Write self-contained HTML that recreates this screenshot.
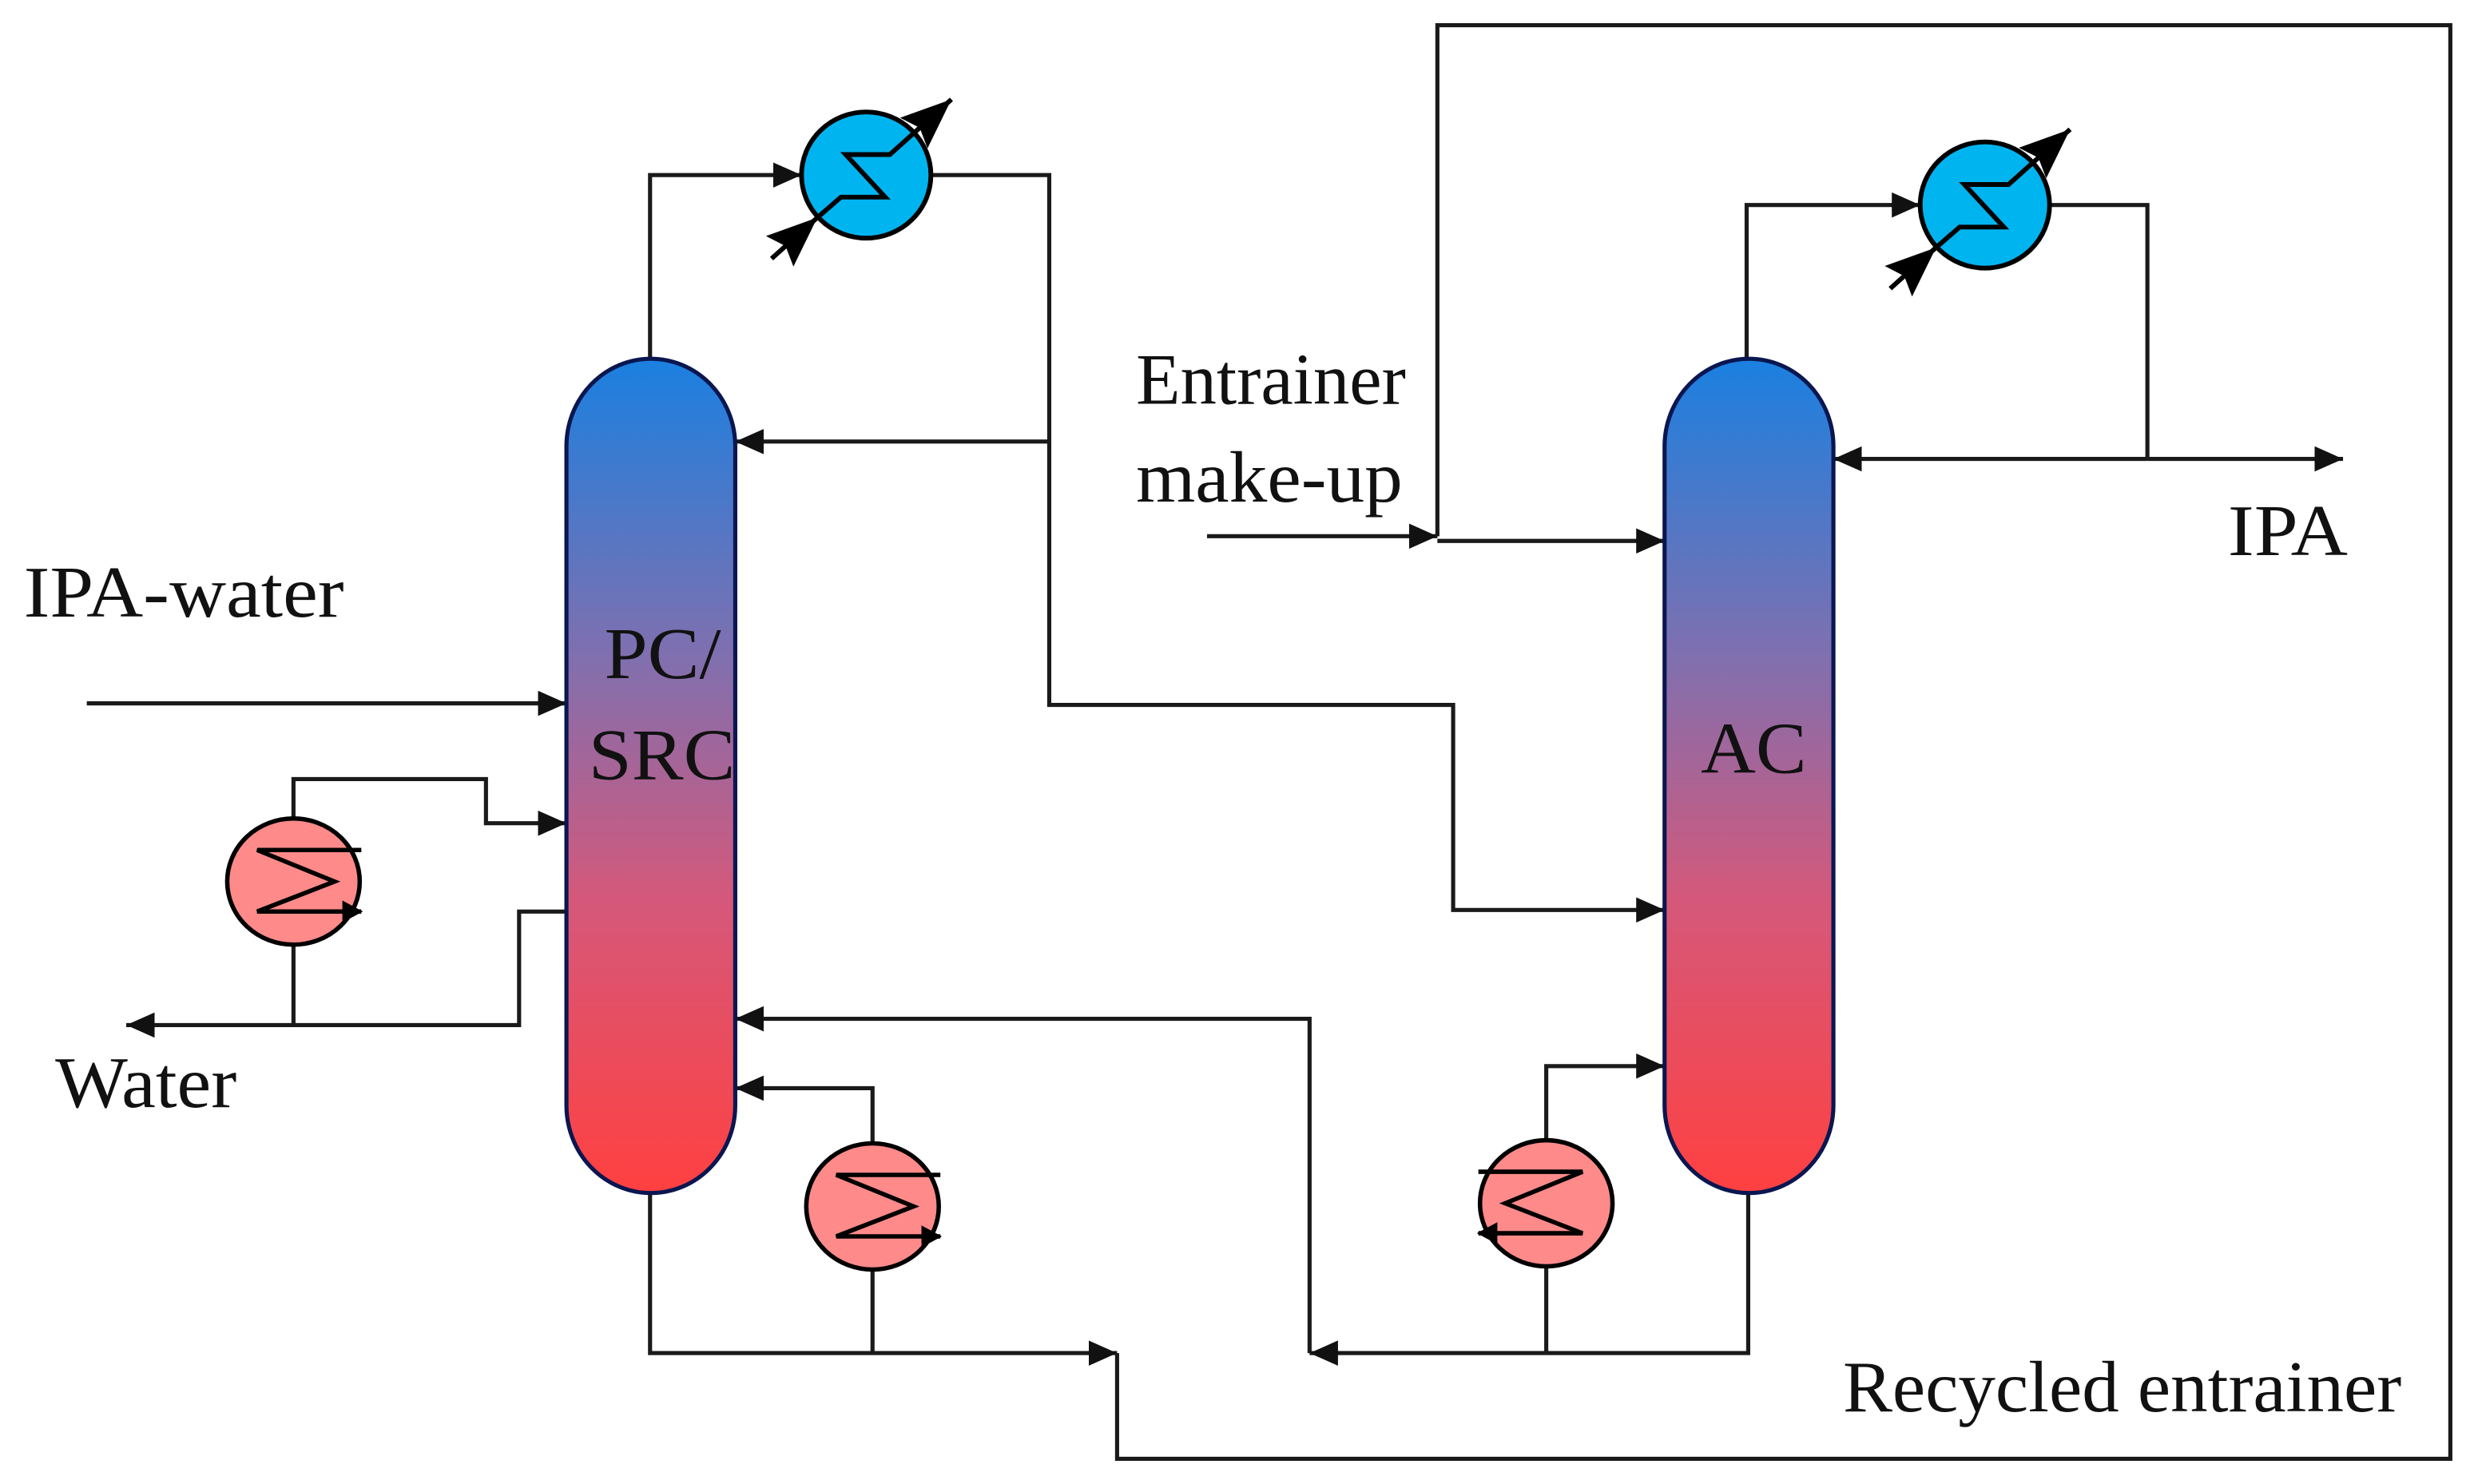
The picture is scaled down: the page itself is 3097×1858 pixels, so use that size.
<!DOCTYPE html>
<html><head><meta charset="utf-8"><style>html,body{margin:0;padding:0;background:#fff}svg{display:block}</style></head>
<body>
<svg width="3097" height="1858" viewBox="0 0 1568 941" preserveAspectRatio="none" xmlns="http://www.w3.org/2000/svg">
<defs>
<marker id="a" markerUnits="userSpaceOnUse" markerWidth="20" markerHeight="16" refX="18" refY="8" orient="auto"><path d="M0 0 L18 8 L0 16 Z" fill="#111"/></marker>
<marker id="b" markerUnits="userSpaceOnUse" markerWidth="34" markerHeight="26" refX="32" refY="13" orient="auto"><path d="M0 0 L32 13 L0 26 L5 13 Z" fill="#000"/></marker>
<marker id="s" markerUnits="userSpaceOnUse" markerWidth="14" markerHeight="14" refX="12" refY="7" orient="auto"><path d="M0 0 L13 7 L0 14 Z" fill="#000"/></marker>
<linearGradient id="g" x1="0" y1="0" x2="0" y2="1">
<stop offset="0" stop-color="#1a80e0"/><stop offset="0.35" stop-color="#7e70b0"/><stop offset="0.65" stop-color="#d5587a"/><stop offset="1" stop-color="#ff4040"/>
</linearGradient>
</defs>
<g fill="none" stroke="#1a1a1a" stroke-width="2.6">
<path d="M412 228 V111 H508" marker-end="url(#a)"/>
<path d="M590 111 H665 V447 H921 V577 H1055" marker-end="url(#a)"/>
<path d="M665 280 H466" marker-end="url(#a)"/>
<path d="M55 446 H359" marker-end="url(#a)"/>
<path d="M186 519 V494 H308 V522 H359" marker-end="url(#a)"/>
<path d="M359 578 H329 V650 H80" marker-end="url(#a)"/>
<path d="M186 599 V650"/>
<path d="M553 725 V690 H466" marker-end="url(#a)"/>
<path d="M412 756 V858 H708" marker-end="url(#a)"/>
<path d="M553 805 V858"/>
<path d="M830 858 V646 H466" marker-end="url(#a)"/>
<path d="M708 858 V925 H1553 V16 H911 V340"/>
<path d="M765 340 H911" marker-end="url(#a)"/>
<path d="M911 343 H1055" marker-end="url(#a)"/>
<path d="M1107 228 V130 H1217" marker-end="url(#a)"/>
<path d="M1299 130 H1361 V291"/>
<path d="M1361 291 H1162" marker-end="url(#a)"/>
<path d="M1361 291 H1485" marker-end="url(#a)"/>
<path d="M1108 756 V858 H830" marker-end="url(#a)"/>
<path d="M980 803 V858"/>
<path d="M980 723 V676 H1055" marker-end="url(#a)"/>
</g>
<path d="M359 283 A53 55 0 0 1 466 283 V701 A53 55 0 0 1 359 701 Z" fill="url(#g)" stroke="#0a1650" stroke-width="2.6"/>
<path d="M1055 283 A53 55 0 0 1 1162 283 V701 A53 55 0 0 1 1055 701 Z" fill="url(#g)" stroke="#0a1650" stroke-width="2.6"/>
<g stroke="#000" stroke-width="3">
<ellipse cx="549" cy="111" rx="41" ry="40" fill="#00b4f0"/>
<path d="M518 138 L533 125 H561 L536 98 H564 L603 63" fill="none" marker-end="url(#b)"/>
<path d="M489 164 L518 138" fill="none" marker-end="url(#b)"/>
<ellipse cx="1258" cy="130" rx="41" ry="40" fill="#00b4f0"/>
<path d="M1227 157 L1242 144 H1270 L1245 117 H1273 L1312 82" fill="none" marker-end="url(#b)"/>
<path d="M1198 183 L1227 157" fill="none" marker-end="url(#b)"/>
</g>
<g stroke="#000" stroke-width="2.8">
<ellipse cx="186" cy="559" rx="42" ry="40" fill="#ff8a8a"/>
<path d="M229 539 H163 L212 559 L163 578 H229" fill="none" marker-end="url(#s)"/>
<ellipse cx="553" cy="765" rx="42" ry="40" fill="#ff8a8a"/>
<path d="M596 745 H530 L579 765 L530 784 H596" fill="none" marker-end="url(#s)"/>
<ellipse cx="980" cy="763" rx="42" ry="40" fill="#ff8a8a"/>
<path d="M937 743 H1003 L954 763 L1003 782 H937" fill="none" marker-end="url(#s)"/>
</g>
<g font-family="Liberation Serif, serif" font-size="46" fill="#111" lengthAdjust="spacingAndGlyphs">
<text x="15" y="391" textLength="203" lengthAdjust="spacingAndGlyphs">IPA-water</text>
<text x="35" y="702" textLength="115" lengthAdjust="spacingAndGlyphs">Water</text>
<text x="720" y="256" textLength="171" lengthAdjust="spacingAndGlyphs">Entrainer</text>
<text x="720" y="318" textLength="169" lengthAdjust="spacingAndGlyphs">make-up</text>
<text x="1412" y="352" textLength="76" lengthAdjust="spacingAndGlyphs">IPA</text>
<text x="383" y="430" textLength="74" lengthAdjust="spacingAndGlyphs">PC/</text>
<text x="373" y="494" textLength="93" lengthAdjust="spacingAndGlyphs">SRC</text>
<text x="1078" y="490" textLength="67" lengthAdjust="spacingAndGlyphs">AC</text>
<text x="1168" y="895" textLength="354" lengthAdjust="spacingAndGlyphs">Recycled entrainer</text>
</g>
</svg>
</body></html>
